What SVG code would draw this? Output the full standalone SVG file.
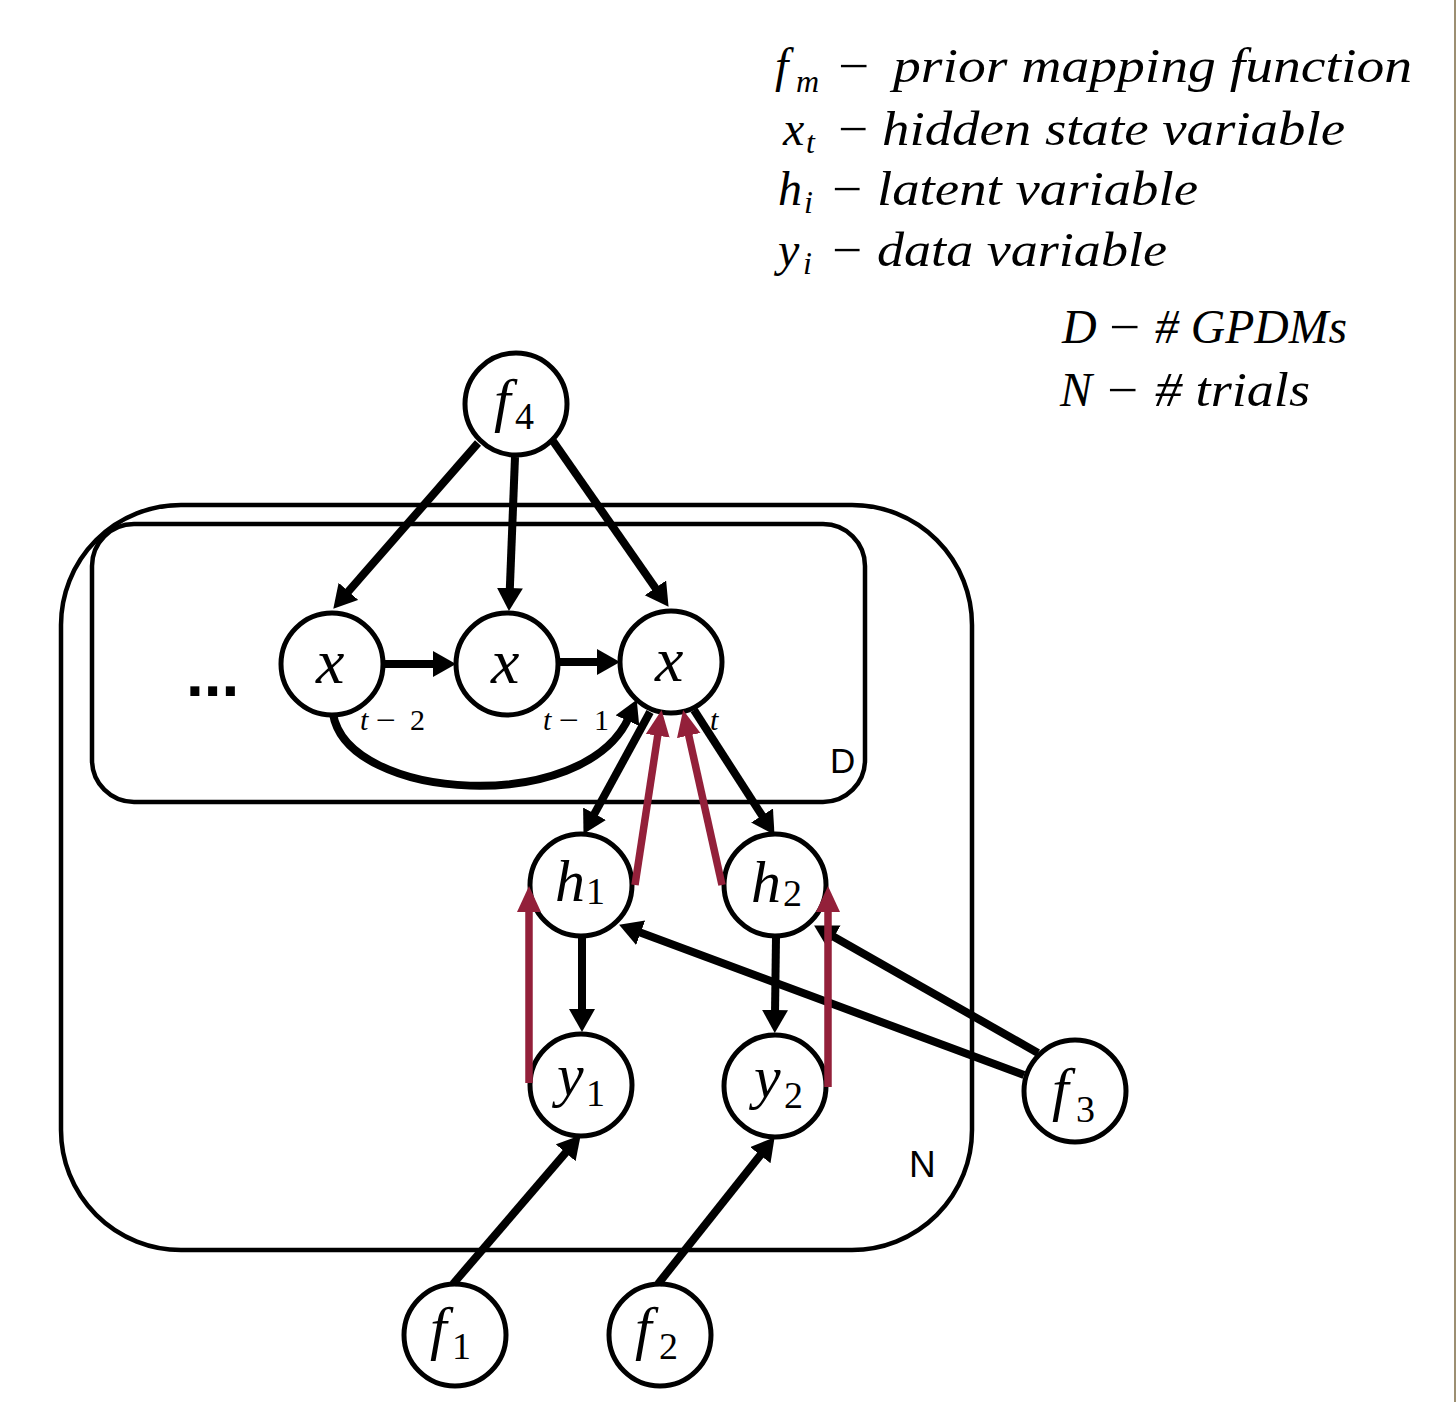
<svg xmlns="http://www.w3.org/2000/svg" width="1456" height="1402" viewBox="0 0 1456 1402">
  <style>
    .plate { fill: none; stroke: #000; stroke-width: 4.5; }
    .node circle { fill: #fff; stroke: #000; stroke-width: 5; }
    .it { font-family: "Liberation Serif", "DejaVu Serif", serif; font-style: italic; fill: #000; }
    .up { font-family: "Liberation Serif", "DejaVu Serif", serif; font-style: normal; fill: #000; }
    .sans { font-family: "Liberation Sans", "Open Sans", sans-serif; fill: #000; }
    .edge { fill: none; stroke: #000; stroke-width: 8; marker-end: url(#head); }
    .back { fill: none; stroke: #93203a; stroke-width: 7.5; marker-end: url(#headRed); }
    .lg { font-size: 48px; }
    .lgs { font-size: 32px; }
    .sub { font-size: 38px; }
    .tl { font-size: 30px; }
  </style>
  <defs>
    <marker id="head" markerUnits="userSpaceOnUse" markerWidth="28" markerHeight="28" refX="4" refY="13" orient="auto">
      <path d="M0,0 L23,13 L0,26 Z" fill="#000"/>
    </marker>
    <marker id="headRed" markerUnits="userSpaceOnUse" markerWidth="32" markerHeight="28" refX="4" refY="12" orient="auto">
      <path d="M0,0 L26,12 L0,24 Z" fill="#93203a"/>
    </marker>
  </defs>

  <rect width="1456" height="1402" fill="#fff"/>
  <line x1="1455" y1="0" x2="1455" y2="1402" stroke="#9c8f72" stroke-width="2"/>

  <!-- legend -->
  <g id="legend">
    <text class="it lg" x="775" y="82">f</text>
    <text class="it lgs" x="796" y="92">m</text>
    <text class="up lg" x="838" y="82" textLength="31" lengthAdjust="spacingAndGlyphs">−</text>
    <text class="it lg" x="893" y="82" textLength="519" lengthAdjust="spacingAndGlyphs">prior mapping function</text>

    <text class="it lg" x="783" y="145">x</text>
    <text class="it lgs" x="806" y="153">t</text>
    <text class="up lg" x="838" y="145" textLength="30" lengthAdjust="spacingAndGlyphs">−</text>
    <text class="it lg" x="882" y="145" textLength="463" lengthAdjust="spacingAndGlyphs">hidden state variable</text>

    <text class="it lg" x="778" y="205">h</text>
    <text class="it lgs" x="804" y="213">i</text>
    <text class="up lg" x="832" y="205" textLength="30" lengthAdjust="spacingAndGlyphs">−</text>
    <text class="it lg" x="877" y="205" textLength="321" lengthAdjust="spacingAndGlyphs">latent variable</text>

    <text class="it lg" x="778" y="266">y</text>
    <text class="it lgs" x="803" y="274">i</text>
    <text class="up lg" x="832" y="266" textLength="30" lengthAdjust="spacingAndGlyphs">−</text>
    <text class="it lg" x="877" y="266" textLength="290" lengthAdjust="spacingAndGlyphs">data variable</text>

    <text class="it lg" x="1062" y="343">D</text>
    <text class="up lg" x="1109" y="343" textLength="31" lengthAdjust="spacingAndGlyphs">−</text>
    <text class="it lg" x="1155" y="343" textLength="192" lengthAdjust="spacingAndGlyphs"># GPDMs</text>

    <text class="it lg" x="1060" y="406">N</text>
    <text class="up lg" x="1107" y="406" textLength="31" lengthAdjust="spacingAndGlyphs">−</text>
    <text class="it lg" x="1155" y="406" textLength="155" lengthAdjust="spacingAndGlyphs"># trials</text>
  </g>

  <!-- plates -->
  <g id="plate-N">
    <rect class="plate" x="61" y="505" width="911" height="745" rx="120" ry="120"/>
    <text class="sans" x="909" y="1177" font-size="37">N</text>
  </g>
  <g id="plate-D">
    <rect class="plate" x="92" y="524" width="773" height="278" rx="42" ry="42"/>
    <text class="sans" x="830" y="773" font-size="35">D</text>
  </g>

  <text id="ellipsis" class="sans" x="186" y="696" font-size="64" font-weight="bold">...</text>

  <!-- nodes -->
  <g id="f4" class="node">
    <circle cx="516" cy="404" r="51"/>
    <text class="it" x="494" y="420" font-size="60">f</text>
    <text class="up sub" x="515" y="429">4</text>
  </g>
  <g id="x-t2" class="node">
    <circle cx="332" cy="664" r="51"/>
    <text class="it" x="316" y="683" font-size="64">x</text>
  </g>
  <g id="x-t1" class="node">
    <circle cx="507" cy="664" r="51"/>
    <text class="it" x="491" y="683" font-size="64">x</text>
  </g>
  <g id="x-t" class="node">
    <circle cx="671" cy="662" r="51"/>
    <text class="it" x="655" y="681" font-size="64">x</text>
  </g>
  <g id="h1" class="node">
    <circle cx="581" cy="885" r="51"/>
    <text class="it" x="555" y="901" font-size="60">h</text>
    <text class="up sub" x="586" y="904">1</text>
  </g>
  <g id="h2" class="node">
    <circle cx="775" cy="885" r="51"/>
    <text class="it" x="751" y="902" font-size="60">h</text>
    <text class="up sub" x="783" y="906">2</text>
  </g>
  <g id="y1" class="node">
    <circle cx="581" cy="1085" r="51"/>
    <text class="it" x="557" y="1095" font-size="60">y</text>
    <text class="up sub" x="586" y="1106">1</text>
  </g>
  <g id="y2" class="node">
    <circle cx="775" cy="1086" r="51"/>
    <text class="it" x="754" y="1097" font-size="60">y</text>
    <text class="up sub" x="784" y="1108">2</text>
  </g>
  <g id="f3" class="node">
    <circle cx="1075" cy="1091" r="51"/>
    <text class="it" x="1052" y="1109" font-size="60">f</text>
    <text class="up sub" x="1076" y="1122">3</text>
  </g>
  <g id="f1" class="node">
    <circle cx="455" cy="1335" r="51"/>
    <text class="it" x="430" y="1348" font-size="60">f</text>
    <text class="up sub" x="452" y="1359">1</text>
  </g>
  <g id="f2" class="node">
    <circle cx="660" cy="1335" r="51"/>
    <text class="it" x="635" y="1348" font-size="60">f</text>
    <text class="up sub" x="659" y="1359">2</text>
  </g>

  <!-- time index labels -->
  <g id="time-labels">
    <text class="it tl" x="360" y="730">t</text>
    <text class="up tl" x="376" y="730" textLength="20" lengthAdjust="spacingAndGlyphs">−</text>
    <text class="up tl" x="410" y="730">2</text>
    <text class="it tl" x="543" y="730">t</text>
    <text class="up tl" x="559" y="730" textLength="20" lengthAdjust="spacingAndGlyphs">−</text>
    <text class="up tl" x="594" y="730">1</text>
    <text class="it tl" x="710" y="730">t</text>
  </g>

  <!-- connectors -->
  <g id="edges">
    <line class="edge" x1="478" y1="443" x2="345.8" y2="594.4"/>
    <line class="edge" x1="515" y1="457" x2="509.7" y2="592"/>
    <line class="edge" x1="553" y1="441" x2="657.7" y2="591.2"/>
    <line class="edge" x1="384" y1="664" x2="437" y2="664"/>
    <line class="edge" x1="559" y1="662" x2="601" y2="662"/>
    <path class="edge" d="M333,714 C348,802 585,816 629,717"/>
    <line class="edge" x1="650" y1="712" x2="592.6" y2="817.2"/>
    <line class="edge" x1="694" y1="710" x2="764.2" y2="818.9"/>
    <line class="edge" x1="582" y1="937" x2="582" y2="1013"/>
    <line class="edge" x1="776" y1="937" x2="775" y2="1014"/>
    <line class="edge" x1="1024" y1="1075" x2="636.9" y2="931.3"/>
    <line class="edge" x1="1038" y1="1053" x2="830.6" y2="934.9"/>
    <line class="edge" x1="453" y1="1284" x2="568.3" y2="1149.7"/>
    <line class="edge" x1="658" y1="1284" x2="762.8" y2="1152.1"/>

    <line class="back" x1="529" y1="1083" x2="529" y2="908"/>
    <line class="back" x1="635" y1="885" x2="658.3" y2="731.8"/>
    <line class="back" x1="722" y1="885" x2="687.9" y2="731.6"/>
    <line class="back" x1="828" y1="1087" x2="828" y2="908"/>
  </g>
</svg>
